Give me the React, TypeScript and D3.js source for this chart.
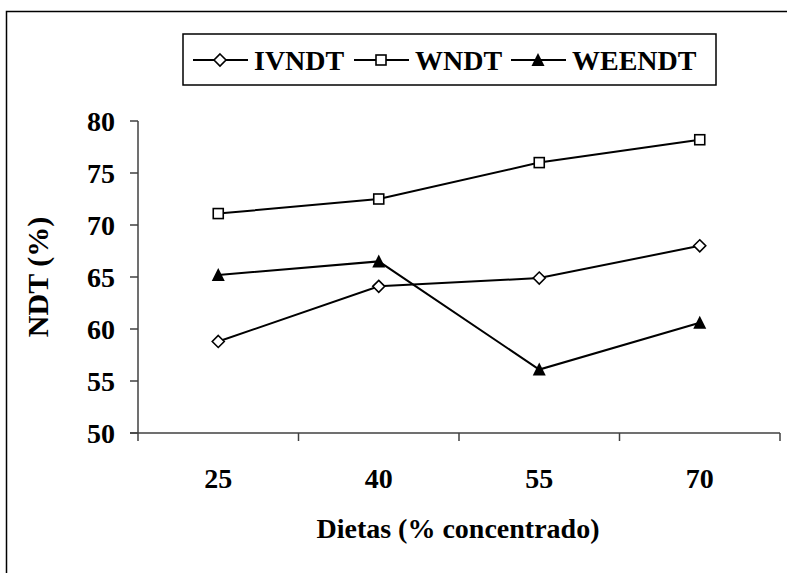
import * as d3 from "d3";

const categories = ["25", "40", "55", "70"];
const ivndt = [58.8, 64.1, 64.9, 68.0];
const wndt = [71.1, 72.5, 76.0, 78.2];
const weendt = [65.2, 66.5, 56.1, 60.6];
const yTicks = [50, 55, 60, 65, 70, 75, 80];

const seriesNames = ["IVNDT", "WNDT", "WEENDT"];
const seriesValues = [ivndt, wndt, weendt];
const seriesShapes = ["diamond", "square", "triangle"];

const width = 787;
const height = 573;
const font = "'Liberation Serif', 'Times New Roman', serif";
const fs = 28;

function Marker({ shape, x, y }: { shape: string; x: number; y: number }) {
  if (shape === "diamond") {
    const r = 6;
    return (
      <path
        d={`M${x},${y - r}L${x + r},${y}L${x},${y + r}L${x - r},${y}Z`}
        fill="white"
        stroke="black"
        strokeWidth={1.6}
      />
    );
  }
  if (shape === "square") {
    const r = 5;
    return (
      <rect x={x - r} y={y - r} width={2 * r} height={2 * r} fill="white" stroke="black" strokeWidth={1.6} />
    );
  }
  const h = 12;
  const w = 13;
  return (
    <path
      d={`M${x},${y - h / 2 - 1}L${x + w / 2},${y + h / 2}L${x - w / 2},${y + h / 2}Z`}
      fill="black"
    />
  );
}

export default function App() {
  const x = d3.scaleBand<string>().domain(categories).range([138, 780]).padding(0);
  const y = d3.scaleLinear().domain([50, 80]).range([433, 121]);
  const cx = (c: string) => (x(c) as number) + x.bandwidth() / 2;

  const line = d3
    .line<number>()
    .x((_, i) => cx(categories[i]))
    .y((d) => y(d));

  const legendItems = [
    { lx: 193, tx: 254 },
    { lx: 354, tx: 415 },
    { lx: 511, tx: 572 },
  ];

  return (
    <svg
      width={width}
      height={height}
      style={{ position: "absolute", left: 0, top: 0, background: "white" }}
      fontFamily={font}
      fontWeight="bold"
    >
      <rect x={6.5} y={11.5} width={900} height={700} fill="white" stroke="black" strokeWidth={1.5} />

      {/* y axis */}
      <line x1={138} x2={138} y1={y(80)} y2={y(50) + 8} stroke="#404040" strokeWidth={1.5} />
      {yTicks.map((t) => (
        <g key={t}>
          <line x1={130} x2={138} y1={y(t)} y2={y(t)} stroke="#404040" strokeWidth={1.5} />
          <text x={115} y={y(t)} dy="0.35em" textAnchor="end" fontSize={fs}>
            {t}
          </text>
        </g>
      ))}

      {/* x axis */}
      <line x1={130} x2={780} y1={y(50)} y2={y(50)} stroke="#404040" strokeWidth={1.5} />
      {categories.map((c) => (
        <g key={c}>
          <line
            x1={(x(c) as number) + x.bandwidth()}
            x2={(x(c) as number) + x.bandwidth()}
            y1={y(50)}
            y2={y(50) + 8}
            stroke="#404040"
            strokeWidth={1.5}
          />
          <text x={cx(c)} y={y(50) + 45} dy="0.35em" textAnchor="middle" fontSize={fs}>
            {c}
          </text>
        </g>
      ))}

      <text x={458} y={528} dy="0.35em" textAnchor="middle" fontSize={fs}>
        Dietas (%  concentrado)
      </text>
      <text
        transform={`translate(37,${(y(80) + y(50)) / 2}) rotate(-90)`}
        dy="0.35em"
        textAnchor="middle"
        fontSize={30}
      >
        NDT (%)
      </text>

      {/* series */}
      {seriesValues.map((vals, s) => (
        <g key={seriesNames[s]}>
          <path d={line(vals) ?? ""} fill="none" stroke="black" strokeWidth={2} />
          {vals.map((v, i) => (
            <Marker key={i} shape={seriesShapes[s]} x={cx(categories[i])} y={y(v)} />
          ))}
        </g>
      ))}

      {/* legend */}
      <rect x={183} y={34} width={533} height={51} fill="white" stroke="black" strokeWidth={1.5} />
      {seriesNames.map((name, s) => {
        const it = legendItems[s];
        const ly = 60;
        return (
          <g key={name}>
            <line x1={it.lx} x2={it.lx + 55} y1={ly} y2={ly} stroke="black" strokeWidth={2} />
            <Marker shape={seriesShapes[s]} x={it.lx + 27} y={ly} />
            <text x={it.tx} y={ly} dy="0.35em" fontSize={fs}>
              {name}
            </text>
          </g>
        );
      })}
    </svg>
  );
}
